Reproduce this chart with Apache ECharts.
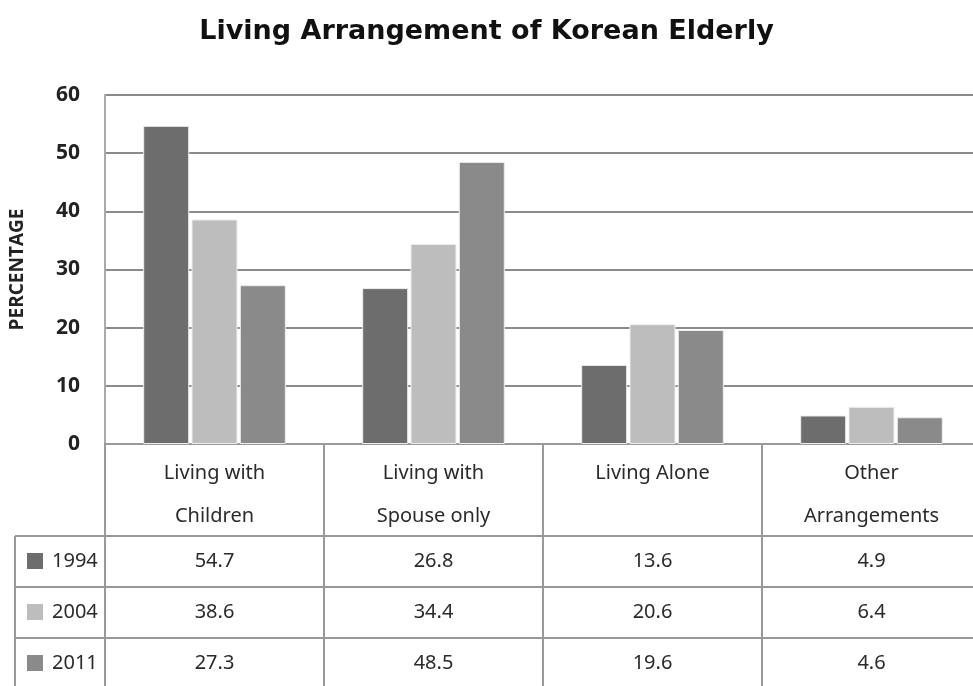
<!DOCTYPE html>
<html>
<head>
<meta charset="utf-8">
<script src="https://cdn.jsdelivr.net/npm/echarts@6/dist/echarts.min.js"></script>
<style>
  html, body { margin: 0; padding: 0; background: #fff; }
  #main { width: 973px; height: 686px; }
</style>
</head>
<body>
<div id="main"></div>
<script>
// data
const categories = ['Living with\nChildren', 'Living with\nSpouse only', 'Living Alone', 'Other\nArrangements'];
const years = ['1994', '2004', '2011'];
const values1994 = [54.7, 26.8, 13.6, 4.9];
const values2004 = [38.6, 34.4, 20.6, 6.4];
const values2011 = [27.3, 48.5, 19.6, 4.6];
const yTicks = [0, 10, 20, 30, 40, 50, 60];

const colors = ['#6d6d6d', '#bdbdbd', '#8a8a8a'];
const allValues = [values1994, values2004, values2011];
const tableFont = '"Noto Sans", sans-serif';
const tableSize = 20;

const chart = echarts.init(document.getElementById('main'));

const option = {
    animation: false,
    backgroundColor: '#fff',
    title: {
        text: 'Living Arrangement of Korean Elderly',
        left: 'center',
        top: 13,
        textStyle: {
            fontFamily: '"DejaVu Sans", sans-serif',
            fontSize: 27,
            fontWeight: 'bold',
            color: '#111'
        }
    },
    grid: {
        left: 105,
        top: 95,
        width: 876,
        height: 349,
        outerBoundsMode: 'none',
        containLabel: false
    },
    xAxis: {
        type: 'category',
        data: categories,
        axisLine: { lineStyle: { color: '#999', width: 2 } },
        axisTick: {
            show: true,
            interval: 0,
            length: 242,
            lineStyle: { color: '#999', width: 2 }
        },
        axisLabel: {
            interval: 0,
            margin: 8,
            fontSize: tableSize,
            lineHeight: 43,
            color: '#2a2a2a',
            fontFamily: tableFont,
            verticalAlign: 'top'
        }
    },
    yAxis: {
        type: 'value',
        min: yTicks[0],
        max: yTicks[yTicks.length - 1],
        interval: 10,
        name: 'PERCENTAGE',
        nameLocation: 'middle',
        nameRotate: 90,
        nameGap: 78,
        nameTextStyle: {
            fontSize: 19,
            fontWeight: 'bold',
            color: '#222',
            fontFamily: '"Open Sans", sans-serif'
        },
        axisLine: { show: true, lineStyle: { color: '#aaa', width: 2 } },
        axisTick: { show: false },
        axisLabel: {
            margin: 25,
            fontSize: 21,
            fontWeight: 'bold',
            color: '#222',
            fontFamily: '"Open Sans", sans-serif'
        },
        splitLine: { lineStyle: { color: '#8c8c8c', width: 2 } }
    },
    series: years.map(function (y, i) {
        return {
            name: y,
            type: 'bar',
            data: allValues[i],
            barWidth: 46,
            barGap: '5%',
            itemStyle: {
                color: colors[i],
                borderColor: '#eeeeee',
                borderWidth: 1
            }
        };
    })
};

chart.setOption(option);

// data table under the plot, placed with the axis scale
const headerBottom = 536;
const rowH = 51;
const tableLeft = 15;
const graphics = [];

for (let r = 0; r < years.length; r++) {
    const top = headerBottom + r * rowH;
    graphics.push({
        type: 'line',
        shape: { x1: tableLeft, y1: top, x2: 973, y2: top },
        style: { stroke: '#999', lineWidth: 2 }
    });
    graphics.push({
        type: 'rect',
        shape: { x: 27, y: top + 17, width: 16, height: 16 },
        style: { fill: colors[r] }
    });
    graphics.push({
        type: 'text',
        style: {
            text: years[r], x: 52, y: top + 25,
            verticalAlign: 'middle', align: 'left',
            fontSize: tableSize, fontFamily: tableFont, fill: '#2a2a2a'
        }
    });
    for (let c = 0; c < categories.length; c++) {
        const px = chart.convertToPixel({ xAxisIndex: 0 }, c);
        graphics.push({
            type: 'text',
            style: {
                text: allValues[r][c].toFixed(1), x: px, y: top + 25,
                verticalAlign: 'middle', align: 'center',
                fontSize: tableSize, fontFamily: tableFont, fill: '#2a2a2a'
            }
        });
    }
}
graphics.push({
    type: 'line',
    shape: { x1: tableLeft, y1: headerBottom, x2: tableLeft, y2: 686 },
    style: { stroke: '#999', lineWidth: 2 }
});

chart.setOption({ graphic: graphics });
</script>
</body>
</html>
